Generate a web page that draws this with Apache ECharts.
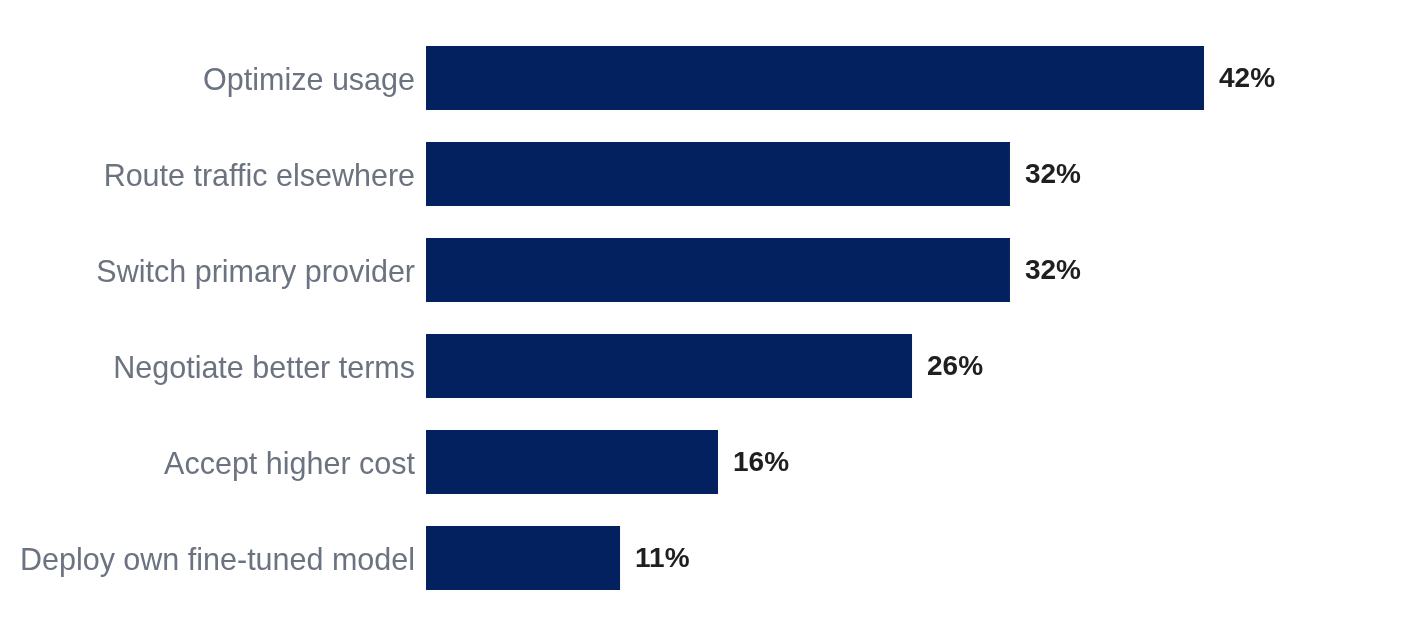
<!DOCTYPE html>
<html>
<head>
<meta charset="utf-8">
<script src="https://cdn.jsdelivr.net/npm/echarts@6/dist/echarts.min.js"></script>
<style>html,body{margin:0;padding:0;background:#fff}#chart{width:1418px;height:637px}</style>
</head>
<body>
<div id="chart"></div>
<script>
const categories = ["Optimize usage","Route traffic elsewhere","Switch primary provider","Negotiate better terms","Accept higher cost","Deploy own fine-tuned model"];
const values = [42.1, 31.6, 31.6, 26.3, 15.8, 10.5];

const chart = echarts.init(document.getElementById('chart'));
chart.setOption({
  animation: false,
  grid: {left: 426, right: 68, top: 30, bottom: 31, containLabel: false},
  xAxis: {type: 'value', min: 0, max: 50, show: false},
  yAxis: {
    type: 'category', data: categories, inverse: true,
    axisLine: {show: false}, axisTick: {show: false},
    axisLabel: {
      margin: 11,
      formatter: v => '{a|' + v + '}',
      rich: {a: {color: '#6b7280', fontSize: 30.5, fontFamily: 'Liberation Sans, Arial, sans-serif', padding: [7, 0, 0, 0]}}
    }
  },
  series: [{
    type: 'bar', data: values, barWidth: 64,
    itemStyle: {color: '#03205f'},
    label: {
      show: true, position: 'right', distance: 15, offset: [0, 1.5],
      formatter: p => Math.round(p.value) + '%',
      color: '#1f1f1f', fontSize: 28, fontWeight: 'bold',
      fontFamily: 'Liberation Sans, Arial, sans-serif'
    }
  }]
});
</script>
</body>
</html>
